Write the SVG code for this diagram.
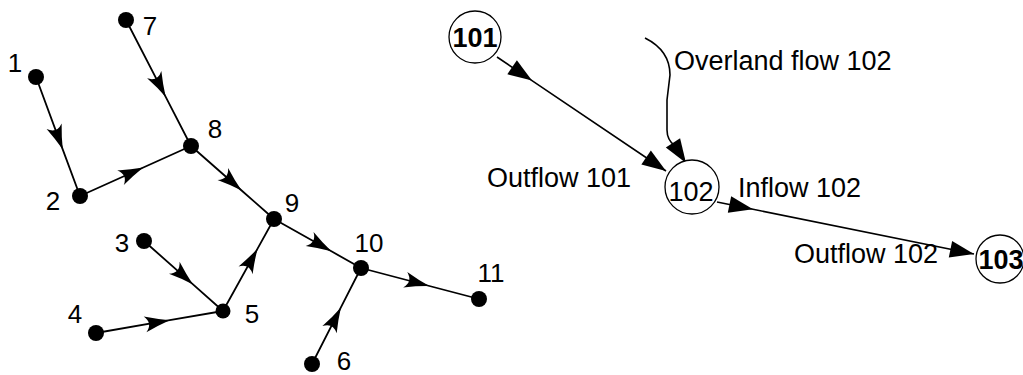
<svg xmlns="http://www.w3.org/2000/svg" width="1023" height="375" viewBox="0 0 1023 375">
<style>
.dot{fill:#000}
.ln{stroke:#000;stroke-width:1.8;fill:none}
.rl{stroke:#000;stroke-width:1.6;fill:none}
.num{font-family:"Liberation Sans",Arial,sans-serif;font-size:26px;fill:#000;text-anchor:middle}
.lbl{font-family:"Liberation Sans",Arial,sans-serif;font-size:27px;fill:#000}
.ring{fill:#fff;stroke:#000;stroke-width:1.3}
.cn{font-family:"Liberation Sans",Arial,sans-serif;font-size:27px;fill:#000;text-anchor:middle}
</style>
<defs>
<marker id="barb" markerUnits="userSpaceOnUse" markerWidth="30" markerHeight="20" refX="25" refY="8" orient="auto" overflow="visible">
<path d="M0,0 Q13,5 25,8 Q13,11 0,16 Q8,8 0,0 Z" fill="#000"/>
</marker>
<marker id="tri" markerUnits="userSpaceOnUse" markerWidth="30" markerHeight="20" refX="24" refY="8.5" orient="auto" overflow="visible">
<path d="M0,0 L24,8.5 L0,17 Z" fill="#000"/>
</marker>
</defs>
<g id="connectors">
<polyline class="ln" points="36,77 62.8,149.6 80,196" marker-mid="url(#barb)"/>
<polyline class="ln" points="126,20 165.7,96.9 191,146" marker-mid="url(#barb)"/>
<polyline class="ln" points="80,196 143.3,167.5 191,146" marker-mid="url(#barb)"/>
<polyline class="ln" points="191,146 241.6,190.5 274,219" marker-mid="url(#barb)"/>
<polyline class="ln" points="274,219 331.4,251.3 361,268" marker-mid="url(#barb)"/>
<polyline class="ln" points="144,241 193,284.4 223,311" marker-mid="url(#barb)"/>
<polyline class="ln" points="96,333 169.7,320.2 223,311" marker-mid="url(#barb)"/>
<polyline class="ln" points="223,311 257.7,248.4 274,219" marker-mid="url(#barb)"/>
<polyline class="ln" points="361,268 429.4,286 479,299" marker-mid="url(#barb)"/>
<polyline class="ln" points="312,364 340.9,307.4 361,268" marker-mid="url(#barb)"/>
<polyline class="rl" points="497,57 532,80.6 666,171" marker-mid="url(#tri)" marker-end="url(#tri)"/>
<polyline class="rl" points="717,202 753,209.3 974,254" marker-mid="url(#tri)" marker-end="url(#tri)"/>
<path class="rl" d="M645,38 C661,46 670,58 670,75 L667,100 L667,130 Q667,140 675,146 L686,163" marker-end="url(#tri)"/>
</g>
<g id="n1"><circle class="dot" cx="36" cy="77" r="8"/><text class="num" x="15" y="72">1</text></g>
<g id="n2"><circle class="dot" cx="80" cy="196" r="8"/><text class="num" x="53" y="210">2</text></g>
<g id="n3"><circle class="dot" cx="144" cy="241" r="8"/><text class="num" x="122" y="252">3</text></g>
<g id="n4"><circle class="dot" cx="96" cy="333" r="8"/><text class="num" x="75" y="323">4</text></g>
<g id="n5"><circle class="dot" cx="223" cy="311" r="7.5"/><text class="num" x="252" y="323">5</text></g>
<g id="n6"><circle class="dot" cx="312" cy="364" r="8"/><text class="num" x="344" y="370">6</text></g>
<g id="n7"><circle class="dot" cx="126" cy="20" r="8"/><text class="num" x="150" y="35">7</text></g>
<g id="n8"><circle class="dot" cx="191" cy="146" r="8"/><text class="num" x="215" y="138">8</text></g>
<g id="n9"><circle class="dot" cx="274" cy="219" r="8"/><text class="num" x="292" y="212">9</text></g>
<g id="n10"><circle class="dot" cx="361" cy="268" r="8"/><text class="num" x="369" y="252">10</text></g>
<g id="n11"><circle class="dot" cx="479" cy="299" r="8"/><text class="num" x="491" y="282">11</text></g>
<g id="n101"><circle class="ring" cx="475" cy="37" r="26"/><text class="cn" x="475" y="47" font-weight="bold">101</text></g>
<g id="n102"><circle class="ring" cx="692" cy="187" r="27"/><text class="cn" x="691" y="201">102</text></g>
<g id="n103"><circle class="ring" cx="1000" cy="259" r="24"/><text class="cn" x="1001" y="269" font-weight="bold">103</text></g>
<g id="labels">
<text class="lbl" x="674" y="70" font-size="28">Overland flow 102</text>
<text class="lbl" x="487" y="187" font-size="26">Outflow 101</text>
<text class="lbl" x="738" y="197">Inflow 102</text>
<text class="lbl" x="794" y="263">Outflow 102</text>
</g>
</svg>
